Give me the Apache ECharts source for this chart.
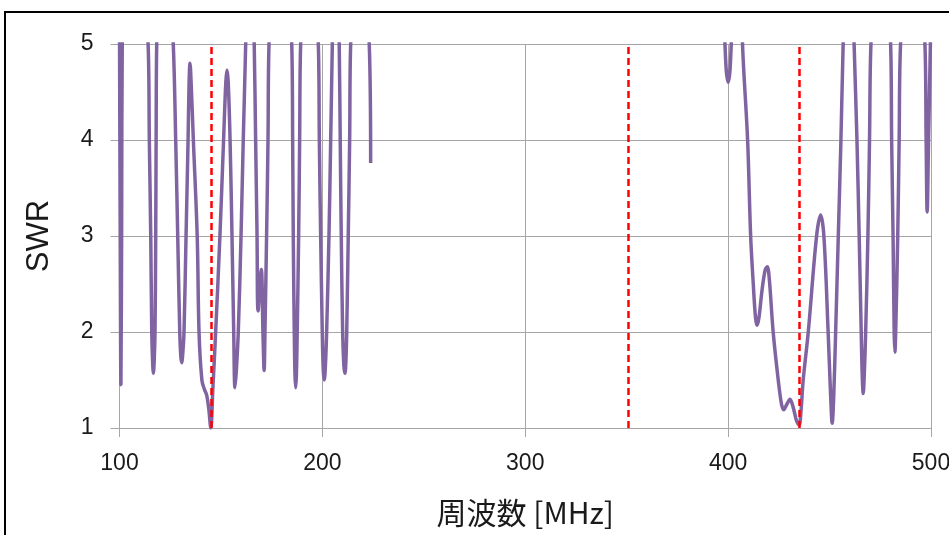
<!DOCTYPE html>
<html>
<head>
<meta charset="utf-8">
<script src="https://cdn.jsdelivr.net/npm/echarts@6/dist/echarts.min.js"></script>
<style>
html,body{margin:0;padding:0;background:#fff;}
#chart{width:949px;height:535px;}
</style>
</head>
<body>
<div id="chart"></div>
<script>
// Frequency sweep 1 (MHz) and SWR values (values > 5 lie above the plot)
const freqLow = [100.0,100.35,100.7,101.05,101.4,107,
  114.1,114.7,115.4,115.9,116.3,116.7,117.1,117.5,117.85,118.05,118.35,122,
  126.5,127.7,128.7,129.7,130.2,130.65,131.2,131.8,132.8,133.8,134.3,134.75,135.3,136.4,138.3,139.2,140.6,141.9,143.0,144.0,145.0,
  146.0,147.4,149.5,151.3,152.4,153.0,153.6,154.5,155.45,156.3,156.9,157.6,158.55,159.9,161.0,162.2,164.3,
  166.4,167.1,167.8,168.3,169.9,170.7,171.3,171.7,172.5,173.2,173.7,179,
  184.9,185.35,185.65,186.15,186.5,186.85,187.2,187.6,188.3,188.8,189.3,193.5,
  198.0,198.5,199.15,199.95,200.45,200.95,201.5,202.1,203.25,204.1,204.9,206.6,
  208.3,208.8,209.3,210.0,210.6,211.15,211.6,212.0,212.75,213.45,213.95,218,
  223.1,223.8];
const swrLow = [5.2,3.0,1.45,3.0,5.2,7,
  5,4,3,2,1.7,1.57,1.7,2,3,4,5,7,
  5,4,3,2,1.75,1.68,1.78,2,3,4,4.6,4.8,4.6,4,3,2,1.5,1.4,1.34,1.2,1.0,
  1.4,2,3,4,4.6,4.73,4.6,4,3,2,1.42,1.6,2,3,4,5,7,
  5,4,3,2.22,2.65,2.0,1.6,2,3,4,5,7,
  5,4,3,2,1.55,1.42,1.55,2,3,4,5,7,
  5,4,3,2,1.6,1.5,1.65,2,3,4,5,7,
  5,4,3,2,1.65,1.57,1.7,2,3,4,5,7,
  5,3.76];

// Frequency sweep 2 (MHz) and SWR values
const freqHigh = [398.0,399.0,400.05,401.0,402.0,404.5,
  407.1,409.6,411.1,412.4,413.5,414.3,415.2,416.8,418.3,419.3,420.3,422.2,424.7,426.3,427.4,429.0,430.5,432.0,433.8,435.0,
  436.0,437.0,439.5,443.6,445.6,447.2,449.3,450.6,451.3,452.0,453.0,454.3,455.6,456.7,459.4,
  462.1,463.5,464.6,465.6,466.1,466.6,467.1,467.8,468.9,469.7,470.4,475,
  480.1,480.6,481.3,481.85,482.2,482.6,483.6,484.3,485.0,491,
  497.0,497.6,498.1,498.8,499.7,500];
const swrHigh = [5.3,4.75,4.6,4.75,5.3,7,
  5,4,3,2.5,2.15,2.07,2.15,2.45,2.65,2.68,2.55,2.0,1.5,1.25,1.19,1.25,1.3,1.22,1.07,1.03,
  1.2,1.5,2,3,3.22,3,2,1.3,1.05,1.3,2,3,4,5,7,
  5,4,3,2,1.55,1.36,1.55,2,3,4,5,7,
  5,4,3,2,1.79,2,3,4,5,7,
  5,4,3.25,4,5,5.4];

// Marked frequencies (MHz)
const markFreqs = [145, 351, 435];

const xTicks = {min: 100, max: 500, interval: 100};
const yTicks = {min: 1, max: 5, interval: 1};

const lineData = [];
freqLow.forEach((f, i) => lineData.push([f, swrLow[i]]));
lineData.push([300, null]);
freqHigh.forEach((f, i) => lineData.push([f, swrHigh[i]]));

const chart = echarts.init(document.getElementById('chart'), null, {renderer: 'canvas'});
const gridColor = '#a6a6a6';
const textColor = '#1a1a1a';
chart.setOption({
  backgroundColor: '#ffffff',
  animation: false,
  graphic: [{
    type: 'rect',
    shape: {x: 5, y: 12, width: 1000, height: 600},
    style: {fill: 'none', stroke: '#000', lineWidth: 2},
    silent: true, z: 100
  }],
  grid: {left: 119.5, right: 18, top: 44, bottom: 107, containLabel: false, outerBoundsMode: 'none'},
  xAxis: {
    type: 'value', min: xTicks.min, max: xTicks.max, interval: xTicks.interval,
    name: '周波数 [MHz]', nameLocation: 'middle', nameGap: 70,
    nameTextStyle: {fontFamily: 'Noto Sans CJK JP', fontSize: 30, color: textColor},
    axisLine: {show: true, lineStyle: {color: gridColor, width: 1}},
    axisTick: {show: true, length: 9, inside: false, lineStyle: {color: gridColor}},
    axisLabel: {fontFamily: 'Liberation Sans', fontSize: 23, color: textColor, margin: 24},
    splitLine: {show: true, lineStyle: {color: gridColor, width: 1}}
  },
  yAxis: {
    type: 'value', min: yTicks.min, max: yTicks.max, interval: yTicks.interval,
    name: 'SWR', nameLocation: 'middle', nameGap: 65, nameRotate: 90,
    nameTextStyle: {fontFamily: 'Liberation Sans', fontSize: 31, color: textColor},
    axisLine: {show: true, lineStyle: {color: gridColor, width: 1}},
    axisTick: {show: true, length: 9, inside: false, lineStyle: {color: gridColor}},
    axisLabel: {fontFamily: 'Liberation Sans', fontSize: 23, color: textColor, margin: 26},
    splitLine: {show: true, lineStyle: {color: gridColor, width: 1}}
  },
  series: [{
    type: 'line',
    data: lineData,
    showSymbol: false,
    symbol: 'none',
    smooth: 0.35,
    connectNulls: false,
    clip: true,
    lineStyle: {color: '#8064a2', width: 3.5},
    z: 2
  }, {
    type: 'line',
    data: [],
    z: 5,
    markLine: {
      silent: true,
      symbol: ['none', 'none'],
      label: {show: false},
      lineStyle: {color: '#ff0000', width: 2.5, type: [7, 4]},
      data: markFreqs.map(f => ({xAxis: f}))
    }
  }]
});
</script>
</body>
</html>
